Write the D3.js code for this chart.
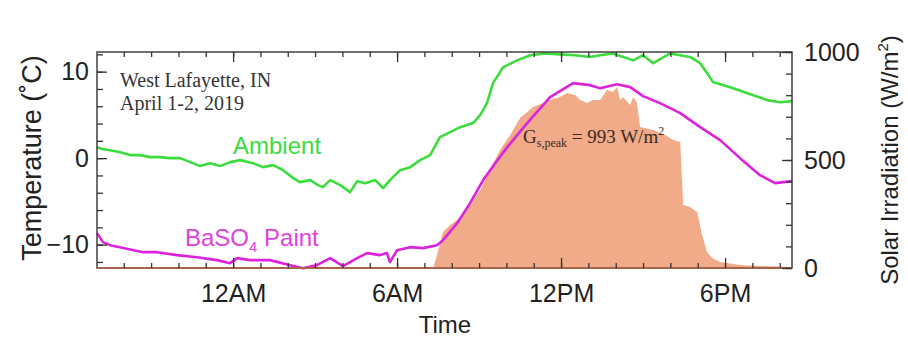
<!DOCTYPE html>
<html><head><meta charset="utf-8">
<script src="https://cdn.jsdelivr.net/npm/d3@7"></script>
<style>html,body{margin:0;padding:0;background:#fff}svg{display:block}</style>
</head><body>
<svg id="c" width="908" height="340"></svg>
<script>
// hours relative to midnight (April 2, 2019)
const ambientHours = [-4.98,-4.76,-4.5,-4.13,-3.77,-3.4,-3.04,-2.67,-2.31,-1.94,-1.57,-1.21,-0.84,-0.48,-0.11,0.26,0.73,1.1,1.46,1.83,2.2,2.45,2.82,3.11,3.29,3.55,3.92,4.28,4.54,4.83,5.2,5.49,5.74,6.11,6.48,6.84,7.21,7.57,7.94,8.31,8.78,9.04,9.29,9.51,9.88,10.39,10.87,11.42,11.96,12.51,13.06,13.43,13.9,14.64,15.0,15.37,15.99,16.72,17.09,17.34,17.56,18.3,19.03,19.54,20.01,20.45];
const ambientTemp = [1.27,1.04,0.92,0.69,0.35,0.35,0.12,0.12,0,0,-0.46,-0.92,-0.58,-0.92,-0.46,-0.23,-0.58,-1.04,-0.81,-1.39,-2.31,-2.77,-2.54,-3.12,-3.35,-2.54,-3.12,-3.93,-2.66,-2.89,-2.54,-3.47,-2.54,-1.39,-1.04,-0.23,0.35,2.43,3.0,3.58,4.05,4.97,6.36,8.67,10.5,11.3,11.9,12.1,12.0,11.9,11.7,11.9,12.1,11.3,11.9,10.98,12.1,11.7,10.98,9.83,8.79,8.09,7.28,6.71,6.47,6.59];

const paintHours = [-4.98,-4.76,-4.5,-4.02,-3.29,-2.78,-2.05,-1.32,-0.59,-0.11,0.15,0.62,1.35,2.09,2.56,3.07,3.55,4.02,4.54,4.9,5.38,5.63,5.74,6.0,6.48,6.95,7.46,7.68,8.2,8.67,9.15,9.59,10.03,10.76,11.6,12.44,13.06,13.43,14.05,14.53,15.0,15.62,16.36,17.09,17.82,18.55,19.28,19.83,20.45];
const paintTemp = [-8.67,-9.71,-10.06,-10.4,-10.87,-10.87,-11.21,-11.45,-11.79,-12.14,-11.56,-11.79,-11.79,-12.37,-12.72,-12.37,-11.56,-12.49,-11.56,-10.98,-11.21,-10.98,-12.02,-10.64,-10.29,-10.4,-10.06,-9.48,-7.51,-5.2,-2.54,-0.58,1.27,4.05,7.05,8.67,8.44,8.09,8.55,8.21,7.17,6.36,5.2,3.58,2.08,0,-1.97,-2.89,-2.66];

const solarHours = [-4.98,7.32,7.46,7.68,7.94,8.2,8.67,9.04,9.4,9.77,10.14,10.5,10.98,11.6,11.96,12.22,12.51,12.7,12.95,13.17,13.43,13.68,13.9,14.05,14.16,14.27,14.53,14.64,14.78,14.89,15.37,15.81,16.1,16.36,16.47,16.72,16.98,17.16,17.34,17.53,17.82,18.55,19.28,20.45];
const solarIrr = [0,0,60,167,199,222,292,361,454,546,616,694,745,778,792,810,801,778,764,778,778,824,815,838,778,792,755,792,764,653,639,616,593,583,292,282,259,153,74,46,28,14,9,5];

const xTickHours = [0,6,12,18];
const xTickLabels = ["12AM","6AM","12PM","6PM"];
const xMinorHours = d3.range(-4,21,1);
const tempTicks = [-10,0,10];
const tempMinor = d3.range(-12,13,2);
const irrTicks = [0,500,1000];
const irrMinor = d3.range(0,1001,100);

const L=97,R=792,T=52,B=268;
const svg=d3.select("#c");
const x=d3.scaleLinear().domain([-4.98,20.45]).range([L,R]);
const yT=d3.scaleLinear().domain([-12.7,12.27]).range([B,T]);
const yG=d3.scaleLinear().domain([0,1000]).range([B,T]);

const sans="'Liberation Sans', Arial, sans-serif";
const serif="'Liberation Serif', 'Times New Roman', serif";

// irradiation area
const solar=solarHours.map((h,i)=>({h,g:solarIrr[i]}));
svg.append("path").datum(solar)
  .attr("d",d3.area().x(d=>x(d.h)).y0(yG(0)).y1(d=>yG(d.g)))
  .attr("fill","#f1ab88").attr("stroke","none");

// lines
const amb=ambientHours.map((h,i)=>({h,t:ambientTemp[i]}));
const pnt=paintHours.map((h,i)=>({h,t:paintTemp[i]}));
const line=d3.line().x(d=>x(d.h)).y(d=>yT(d.t));
svg.append("path").datum(amb).attr("d",line).attr("fill","none").attr("stroke","#3ddc3d").attr("stroke-width",2.6).attr("stroke-linejoin","round");
svg.append("path").datum(pnt).attr("d",line).attr("fill","none").attr("stroke","#dd22dd").attr("stroke-width",2.6).attr("stroke-linejoin","round");

// frame
svg.append("rect").attr("x",L).attr("y",T).attr("width",R-L).attr("height",B-T).attr("fill","none").attr("stroke","#333").attr("stroke-width",1.4);
svg.append("line").attr("x1",L).attr("x2",R).attr("y1",B).attr("y2",B).attr("stroke","#a8644a").attr("stroke-width",2);

function styleAxis(g){g.select(".domain").remove();g.selectAll("line").attr("stroke","#333").attr("stroke-width",1.3);g.selectAll("text").attr("font-family",sans).attr("font-size",25).attr("fill","#222");}

// x axes (bottom and top)
svg.append("g").attr("transform",`translate(0,${B})`).call(d3.axisBottom(x).tickValues(xMinorHours).tickSize(-5).tickFormat("")).call(styleAxis);
svg.append("g").attr("transform",`translate(0,${B})`).call(d3.axisBottom(x).tickValues(xTickHours).tickSize(-10).tickPadding(16).tickFormat((d,i)=>xTickLabels[i])).call(styleAxis);
svg.append("g").attr("transform",`translate(0,${T})`).call(d3.axisTop(x).tickValues(xMinorHours).tickSize(-5).tickFormat("")).call(styleAxis);
svg.append("g").attr("transform",`translate(0,${T})`).call(d3.axisTop(x).tickValues(xTickHours).tickSize(-10).tickFormat("")).call(styleAxis);

// left axis
svg.append("g").attr("transform",`translate(${L},0)`).call(d3.axisLeft(yT).tickValues(tempMinor).tickSize(-6).tickFormat("")).call(styleAxis);
svg.append("g").attr("transform",`translate(${L},0)`).call(d3.axisLeft(yT).tickValues(tempTicks).tickSize(-10).tickPadding(8).tickFormat(d3.format("d"))).call(styleAxis);
// right axis
svg.append("g").attr("transform",`translate(${R},0)`).call(d3.axisRight(yG).tickValues(irrMinor).tickSize(-6).tickFormat("")).call(styleAxis);
svg.append("g").attr("transform",`translate(${R},0)`).call(d3.axisRight(yG).tickValues(irrTicks).tickSize(-10).tickPadding(12).tickFormat(d3.format("d"))).call(styleAxis);

// axis titles
svg.append("text").attr("x",445).attr("y",333).attr("text-anchor","middle").attr("font-family",sans).attr("font-size",24).attr("fill","#222").text("Time");
svg.append("text").attr("transform","translate(41,158) rotate(-90)").attr("text-anchor","middle").attr("font-family",sans).attr("font-size",27).attr("fill","#222").text("Temperature (˚C)");
const rt=svg.append("text").attr("transform","translate(898,160) rotate(-90)").attr("text-anchor","middle").attr("font-family",sans).attr("font-size",24).attr("fill","#222");
rt.append("tspan").text("Solar Irradiation (W/m");
rt.append("tspan").attr("font-size",15).attr("dy",-10).text("2");
rt.append("tspan").attr("dy",10).text(")");

// annotations
svg.append("text").attr("x",120).attr("y",87).attr("font-family",serif).attr("font-size",20).attr("fill","#333").text("West Lafayette, IN");
svg.append("text").attr("x",120).attr("y",110).attr("font-family",serif).attr("font-size",20).attr("fill","#333").text("April 1-2, 2019");
svg.append("text").attr("x",233).attr("y",154).attr("font-family",sans).attr("font-size",24).attr("fill","#3ddc3d").text("Ambient");
const bl=svg.append("text").attr("x",185).attr("y",246).attr("font-family",sans).attr("font-size",24).attr("fill","#e040e0");
bl.append("tspan").text("BaSO");
bl.append("tspan").attr("font-size",15).attr("dy",6).text("4");
bl.append("tspan").attr("dy",-6).text(" Paint");
const gp=svg.append("text").attr("x",523).attr("y",143).attr("font-family",serif).attr("font-size",19).attr("fill","#3a2a22");
gp.append("tspan").text("G");
gp.append("tspan").attr("font-size",12).attr("dy",4).text("s,peak");
gp.append("tspan").attr("dy",-4).text(" = 993 W/m");
gp.append("tspan").attr("font-size",12).attr("dy",-8).text("2");
</script>
</body></html>
